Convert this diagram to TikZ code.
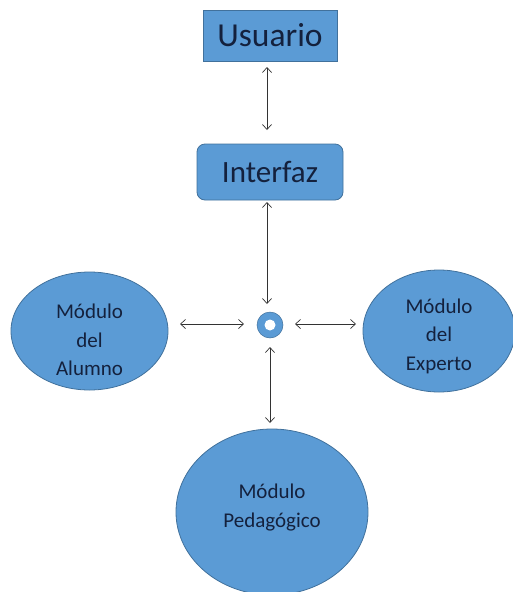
\documentclass[tikz,border=0pt]{standalone}
\usepackage{fontspec}
\setmainfont{Carlito}
\usetikzlibrary{arrows.meta,shapes.geometric}
\definecolor{boxfill}{HTML}{5B9BD5}
\definecolor{boxline}{HTML}{41719C}
\definecolor{txt}{HTML}{14213D}
\tikzset{
  blk/.style={draw=boxline, fill=boxfill, line width=0.8pt, text=txt, inner sep=0pt},
  ell/.style={blk, ellipse},
  etxt/.style={text=txt, align=center, inner sep=0pt, font=\fontsize{21}{28.5}\selectfont},
  conn/.style={{Straight Barb[length=5pt,width=9pt]}-{Straight Barb[length=5pt,width=9pt]}, line width=0.7pt, draw=black!80}
}
\begin{document}
\begin{tikzpicture}[x=1pt,y=-1pt]
\useasboundingbox (0,0) rectangle (513,592);
\node[blk, minimum width=134pt, minimum height=51pt, font=\fontsize{33.5}{36}\selectfont] (usr) at (270,35.5) {Usuario};
\node[blk, rounded corners=8pt, minimum width=146pt, minimum height=56pt, font=\fontsize{31}{34}\selectfont] (int) at (270,172) {Interfaz};
\node[circle, draw=boxline, fill=boxfill, line width=0.5pt, minimum size=26pt, inner sep=0pt] (hub) at (270,325) {};
\fill[white] (hub.center) circle (5.5pt);
\node[ell, minimum width=157pt, minimum height=118pt] (alu) at (89.5,331) {};
\node[etxt] (alut) at (89.5,340) {Módulo\\del\\Alumno};
\node[ell, minimum width=152pt, minimum height=122pt] (exp) at (439,331) {};
\node[etxt] (expt) at (439,336) {Módulo\\del\\Experto};
\node[ell, minimum width=192pt, minimum height=166pt] (ped) at (272,512) {};
\node[etxt] (pedt) at (272,507.5) {Módulo\\Pedagógico};
\coordinate (a1) at (267,67); \coordinate (a2) at (267,130);
\draw[conn] (a1) -- (a2);
\coordinate (b1) at (267,202); \coordinate (b2) at (267,304);
\draw[conn] (b1) -- (b2);
\coordinate (c1) at (180,324); \coordinate (c2) at (244,324);
\draw[conn] (c1) -- (c2);
\coordinate (d1) at (295,324); \coordinate (d2) at (356,324);
\draw[conn] (d1) -- (d2);
\coordinate (e1) at (270,347); \coordinate (e2) at (270,423);
\draw[conn] (e1) -- (e2);
\end{tikzpicture}
\end{document}
